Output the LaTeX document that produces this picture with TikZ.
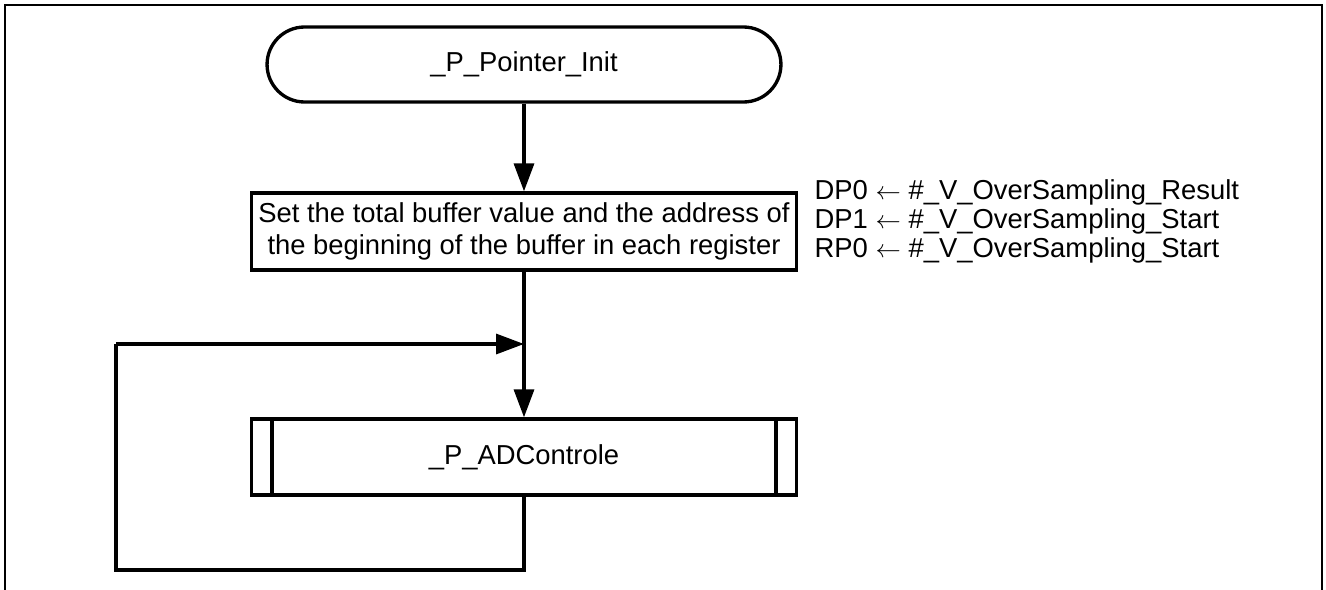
\documentclass[tikz,border=0pt]{standalone}
\usepackage{fontspec}
\setmainfont{Liberation Sans}
\usepackage{tikz}
\usetikzlibrary{arrows.meta,positioning}

\begin{document}
\begin{tikzpicture}[
            x=0.02cm, y=0.02cm,
            >={Triangle[length=0.56cm,width=0.4cm]},
            every path/.style={line width=1.9pt},
            txt/.style={font=\fontsize{15.6}{18}\selectfont},
            term/.style={txt, draw, rounded corners=0.75cm, minimum width=10.28cm, minimum height=1.5cm},
            proc/.style={txt, draw, align=center, inner sep=2pt, minimum width=10.9cm, minimum height=1.54cm},
            subr/.style={txt, draw, minimum width=10.9cm, minimum height=1.52cm},
            note/.style={font=\fontsize{15.6}{16.5}\selectfont, align=left, inner sep=0pt}
        ]
            \useasboundingbox (0,0) rectangle (1326,-589);
            \def\X{524}
            % frame
            \draw[line width=1.4pt] (5,-620) -- (5,-5) -- (1322,-5) -- (1322,-620);
            % start
            \node[term] (init) at (\X,-64.5) {\_P\_Pointer\_Init};
            % set registers
            \node[proc] (setbuf) at (\X,-231.5)
                {Set the total buffer value and the address of\\
                the beginning of the buffer in each register};
            \node[note, anchor=west] (regs) at (813,-221)
                {DP0 \(\leftarrow\) \#\_V\_OverSampling\_Result\\
                DP1 \(\leftarrow\) \#\_V\_OverSampling\_Start\\
                RP0 \(\leftarrow\) \#\_V\_OverSampling\_Start};
            % subroutine
            \node[subr] (adc) at (\X,-457) {\_P\_ADControle};
            \draw ([xshift=0.44cm]adc.north west) -- ([xshift=0.44cm]adc.south west);
            \draw ([xshift=-0.44cm]adc.north east) -- ([xshift=-0.44cm]adc.south east);
            % flow
            \draw[->] (init) -- (setbuf);
            \draw[->] (setbuf) -- (adc);
            % loop back
            \coordinate (loopbot) at (116,-570);
            \coordinate (looptop) at (116,-344);
            \draw (adc.south) |- (loopbot) -- (looptop);
            \draw[->] (looptop) -- (looptop -| adc.north);
        \end{tikzpicture}
\end{document}
